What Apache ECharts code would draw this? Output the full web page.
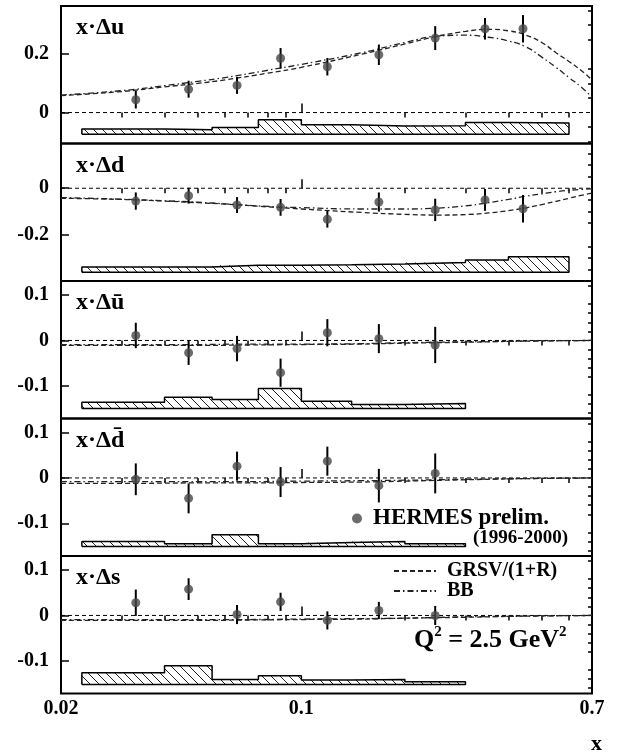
<!DOCTYPE html>
<html>
<head>
<meta charset="utf-8">
<script src="https://cdn.jsdelivr.net/npm/echarts@6/dist/echarts.min.js"></script>
<style>html,body{margin:0;background:#fff}#chart{width:617px;height:754px}</style>
</head>
<body>
<div id="chart"></div>
<script>
// HERMES bin centres and bin edges (systematic bands)
const binX = [0.033, 0.047, 0.065, 0.087, 0.119, 0.168, 0.245, 0.342, 0.441];
const binEdges = [0.023, 0.04, 0.055, 0.075, 0.1, 0.14, 0.2, 0.3, 0.4, 0.6];

// x*Delta u
const uVal = [0.044, 0.080, 0.093, 0.186, 0.157, 0.198, 0.255, 0.287, 0.287];
const uErr = [0.030, 0.029, 0.029, 0.035, 0.030, 0.035, 0.041, 0.037, 0.047];
const uSysTop = [-0.056, -0.059, -0.051, -0.025, -0.042, -0.046, -0.045, -0.034, -0.036];
const uSysBase = -0.074;
// x*Delta d
const dVal = [-0.055, -0.032, -0.072, -0.082, -0.133, -0.059, -0.093, -0.050, -0.088];
const dErr = [0.037, 0.034, 0.034, 0.036, 0.036, 0.041, 0.048, 0.047, 0.059];
const dSysTop = [-0.338, -0.338, -0.330, -0.330, -0.328, -0.325, -0.319, -0.308, -0.294];
const dSysBase = -0.36;
// x*Delta ubar
const ubVal = [0.011, -0.027, -0.018, -0.071, 0.017, 0.004, -0.010];
const ubErr = [0.028, 0.027, 0.028, 0.031, 0.030, 0.032, 0.040];
const ubSysTop = [-0.136, -0.125, -0.130, -0.106, -0.134, -0.141, -0.139];
const ubSysBase = -0.150;
// x*Delta dbar
const dbVal = [-0.003, -0.045, 0.026, -0.009, 0.037, -0.017, 0.010];
const dbErr = [0.035, 0.033, 0.032, 0.033, 0.032, 0.037, 0.044];
const dbSysTop = [-0.140, -0.145, -0.125, -0.145, -0.142, -0.140, -0.145];
const dbSysBase = -0.151;
// x*Delta s
const sVal = [0.028, 0.058, 0.002, 0.030, -0.011, 0.011, 0.000];
const sErr = [0.029, 0.024, 0.021, 0.020, 0.020, 0.019, 0.021];
const sSysTop = [-0.126, -0.111, -0.141, -0.133, -0.142, -0.141, -0.146];
const sSysBase = -0.152;

// model curves
const valX = [0.02, 0.03, 0.04, 0.05, 0.06, 0.08, 0.1, 0.15, 0.2, 0.25, 0.3, 0.35, 0.4, 0.45, 0.5, 0.55, 0.6, 0.65, 0.7];
const uGRSV = [0.058, 0.072, 0.088, 0.100, 0.112, 0.135, 0.155, 0.200, 0.235, 0.262, 0.278, 0.285, 0.280, 0.265, 0.240, 0.205, 0.175, 0.145, 0.112];
const uBB = [0.060, 0.075, 0.092, 0.107, 0.120, 0.145, 0.165, 0.205, 0.240, 0.262, 0.265, 0.258, 0.245, 0.225, 0.190, 0.155, 0.120, 0.088, 0.053];
const dGRSV = [-0.043, -0.048, -0.055, -0.062, -0.068, -0.080, -0.089, -0.104, -0.112, -0.115, -0.113, -0.106, -0.096, -0.084, -0.070, -0.056, -0.043, -0.031, -0.021];
const dBB = [-0.040, -0.047, -0.054, -0.060, -0.067, -0.078, -0.083, -0.089, -0.089, -0.085, -0.076, -0.062, -0.048, -0.034, -0.024, -0.015, -0.009, -0.005, -0.003];
const seaX = [0.02, 0.03, 0.05, 0.07, 0.1, 0.15, 0.2, 0.3, 0.4, 0.5, 0.7];
const ubGRSV = [-0.011, -0.011, -0.011, -0.010, -0.009, -0.008, -0.006, -0.004, -0.002, -0.001, 0];
const ubBB = [-0.009, -0.009, -0.009, -0.008, -0.008, -0.007, -0.005, -0.003, -0.002, -0.001, 0];
const dbGRSV = [-0.012, -0.012, -0.011, -0.011, -0.010, -0.009, -0.007, -0.004, -0.002, -0.001, 0];
const dbBB = [-0.008, -0.008, -0.008, -0.008, -0.007, -0.006, -0.005, -0.003, -0.002, -0.001, 0];
const sGRSV = [-0.011, -0.011, -0.011, -0.010, -0.009, -0.008, -0.006, -0.004, -0.002, -0.001, 0];
const sBB = [-0.009, -0.009, -0.009, -0.009, -0.008, -0.007, -0.006, -0.003, -0.002, -0.001, 0];

const xMajor = [0.1];
const xMinor = [0.03, 0.04, 0.05, 0.06, 0.07, 0.08, 0.09, 0.2, 0.3, 0.4, 0.5, 0.6];
const xLabels = [0.02, 0.1, 0.7];

const FONT = 'Liberation Serif';
const xMin = 0.02, xMax = 0.7;

const panels = [
    { label: 'x·Δu', val: uVal, err: uErr, sysTop: uSysTop, sysBase: uSysBase, cx: valX, grsv: uGRSV, bb: uBB,
      range: [-0.106, 0.365], major: [0, 0.2], minor: [-0.1, -0.05, 0.05, 0.1, 0.15, 0.25, 0.3, 0.35] },
    { label: 'x·Δd', val: dVal, err: dErr, sysTop: dSysTop, sysBase: dSysBase, cx: valX, grsv: dGRSV, bb: dBB,
      range: [-0.398, 0.192], major: [-0.2, 0], minor: [-0.35, -0.3, -0.25, -0.15, -0.1, -0.05, 0.05, 0.1, 0.15] },
    { label: 'x·Δū', val: ubVal, err: ubErr, sysTop: ubSysTop, sysBase: ubSysBase, cx: seaX, grsv: ubGRSV, bb: ubBB,
      range: [-0.172, 0.131], major: [-0.1, 0, 0.1], minor: [-0.16, -0.14, -0.12, -0.08, -0.06, -0.04, -0.02, 0.02, 0.04, 0.06, 0.08, 0.12] },
    { label: 'x·Δd\u0304', val: dbVal, err: dbErr, sysTop: dbSysTop, sysBase: dbSysBase, cx: seaX, grsv: dbGRSV, bb: dbBB,
      range: [-0.172, 0.131], major: [-0.1, 0, 0.1], minor: [-0.16, -0.14, -0.12, -0.08, -0.06, -0.04, -0.02, 0.02, 0.04, 0.06, 0.08, 0.12] },
    { label: 'x·Δs', val: sVal, err: sErr, sysTop: sSysTop, sysBase: sSysBase, cx: seaX, grsv: sGRSV, bb: sBB,
      range: [-0.172, 0.131], major: [-0.1, 0, 0.1], minor: [-0.16, -0.14, -0.12, -0.08, -0.06, -0.04, -0.02, 0.02, 0.04, 0.06, 0.08, 0.12] }
];

const gridTops = [6, 143.5, 281, 418.5, 556];
const gridH = 137.5;

// hatch tile for the systematic bands
const tile = document.createElement('canvas');
tile.width = 9; tile.height = 9;
const tc = tile.getContext('2d');
tc.fillStyle = '#fff';
tc.fillRect(0, 0, 9, 9);
tc.strokeStyle = '#222';
tc.lineWidth = 1;
[-9, 0, 9].forEach(o => {
    tc.beginPath(); tc.moveTo(o - 1, -1); tc.lineTo(o + 10, 10); tc.stroke();
});
const hatch = { image: tile, repeat: 'repeat' };

function renderBand(params, api) {
    const a = api.coord([api.value(0), api.value(2)]);
    const b = api.coord([api.value(1), api.value(3)]);
    return { type: 'rect', shape: { x: a[0], y: a[1], width: b[0] - a[0], height: b[1] - a[1] }, style: { fill: hatch } };
}

function renderErr(params, api) {
    const x = api.value(0), y = api.value(1), e = api.value(2);
    const p0 = api.coord([x, y - e]);
    const p1 = api.coord([x, y + e]);
    return { type: 'line', shape: { x1: p0[0], y1: p0[1], x2: p1[0], y2: p1[1] }, style: { stroke: '#000', lineWidth: 2 } };
}

function outline(tops, base) {
    const pts = [[binEdges[0], base]];
    tops.forEach((t, i) => { pts.push([binEdges[i], t], [binEdges[i + 1], t]); });
    pts.push([binEdges[tops.length], base], [binEdges[0], base]);
    return pts;
}

const fmtX = v => String(Number(Number(v).toPrecision(3)));
const bold = (size) => ({ fontFamily: FONT, fontWeight: 'bold', fontSize: size, color: '#000' });

const grid = [], xAxis = [], yAxis = [], series = [], title = [];
panels.forEach((p, i) => {
    const last = i === panels.length - 1;
    grid.push({ left: 61, right: 25, top: gridTops[i], height: gridH, show: true, borderColor: '#000', borderWidth: 2, backgroundColor: 'transparent' });
    xAxis.push({
        type: 'log', gridIndex: i, min: xMin, max: xMax,
        axisLine: { show: false }, splitLine: { show: false },
        axisTick: { show: true, inside: true, length: 9, customValues: xMajor, lineStyle: { color: '#000', width: 1.5 } },
        axisLabel: Object.assign({ show: last, customValues: xLabels, formatter: fmtX, margin: 5 }, bold(20))
    });
    xAxis.push({
        type: 'log', gridIndex: i, min: xMin, max: xMax,
        axisLine: { show: false }, splitLine: { show: false }, axisLabel: { show: false },
        axisTick: { show: true, inside: true, length: 5, customValues: xMinor, lineStyle: { color: '#000', width: 1.5 } }
    });
    yAxis.push({
        type: 'value', gridIndex: i, min: p.range[0], max: p.range[1],
        axisLine: { show: false }, splitLine: { show: false },
        axisTick: { show: true, inside: true, length: 8, customValues: p.major, lineStyle: { color: '#000', width: 1.5 } },
        axisLabel: Object.assign({ customValues: p.major, margin: 12, padding: [5, 0, 0, 0] }, bold(20))
    });
    yAxis.push({
        type: 'value', gridIndex: i, min: p.range[0], max: p.range[1],
        axisLine: { show: false }, splitLine: { show: false }, axisLabel: { show: false },
        axisTick: { show: true, inside: true, length: 4, customValues: p.minor, lineStyle: { color: '#000', width: 1.5 } }
    });
    const xi = 2 * i, yi = 2 * i;
    series.push({
        type: 'custom', xAxisIndex: xi, yAxisIndex: yi, renderItem: renderBand, z: 1,
        encode: { x: [0, 1], y: [2, 3] },
        data: p.sysTop.map((t, k) => [binEdges[k], binEdges[k + 1], t, p.sysBase])
    });
    series.push({
        type: 'line', xAxisIndex: xi, yAxisIndex: yi, symbol: 'none', z: 2,
        lineStyle: { color: '#000', width: 1.5 }, data: outline(p.sysTop, p.sysBase)
    });
    series.push({
        type: 'line', xAxisIndex: xi, yAxisIndex: yi, symbol: 'none', z: 2,
        lineStyle: { color: '#000', width: 1, type: [4, 3] }, data: [[xMin, 0], [xMax, 0]]
    });
    series.push({
        name: 'GRSV/(1+R)', type: 'line', xAxisIndex: xi, yAxisIndex: yi, symbol: 'none', smooth: true, z: 3,
        lineStyle: { color: '#222', width: 1.3, type: [5, 3] }, itemStyle: { color: '#222' },
        data: p.cx.map((x, k) => [x, p.grsv[k]])
    });
    series.push({
        name: 'BB', type: 'line', xAxisIndex: xi, yAxisIndex: yi, symbol: 'none', smooth: true, z: 3,
        lineStyle: { color: '#222', width: 1.3, type: [6, 3, 1.5, 3] }, itemStyle: { color: '#222' },
        data: p.cx.map((x, k) => [x, p.bb[k]])
    });
    series.push({
        type: 'custom', xAxisIndex: xi, yAxisIndex: yi, renderItem: renderErr, z: 4,
        encode: { x: 0, y: 1 },
        data: p.val.map((v, k) => [binX[k], v, p.err[k]])
    });
    series.push({
        name: 'HERMES prelim.', type: 'scatter', xAxisIndex: xi, yAxisIndex: yi, z: 5,
        symbol: 'circle', symbolSize: 9, itemStyle: { color: '#474747' },
        data: p.val.map((v, k) => [binX[k], v])
    });
    title.push({ text: p.label, left: 76, top: gridTops[i] + 10, padding: 0, textStyle: bold(24) });
});

title.push({ text: '(1996-2000)', left: 473, top: 529, padding: 0, textStyle: bold(19) });
title.push({
    text: 'Q{s|2} = 2.5 GeV{s|2}', left: 414, top: 625, padding: 0,
    textStyle: Object.assign(bold(26), { lineHeight: 31, rich: { s: Object.assign(bold(15), { verticalAlign: 'top', lineHeight: 15 }) } })
});
title.push({ text: 'x', left: 591, top: 733, padding: 0, textStyle: bold(22) });

const chart = echarts.init(document.getElementById('chart'));
chart.setOption({
    animation: false,
    backgroundColor: '#fff',
    title: title,
    legend: [
        {
            data: [{ name: 'HERMES prelim.', icon: 'circle' }], left: 347, top: 502,
            itemWidth: 10, itemHeight: 10, selectedMode: false,
            textStyle: Object.assign(bold(23), { padding: [0, 0, 0, 6] })
        },
        {
            data: ['GRSV/(1+R)', 'BB'], orient: 'vertical', left: 388, top: 556,
            itemWidth: 42, itemHeight: 12, itemGap: 0, selectedMode: false,
            itemStyle: { opacity: 0 },
            textStyle: Object.assign(bold(20), { padding: [0, 0, 0, 6] })
        }
    ],
    grid: grid,
    xAxis: xAxis,
    yAxis: yAxis,
    series: series
});
</script>
</body>
</html>
